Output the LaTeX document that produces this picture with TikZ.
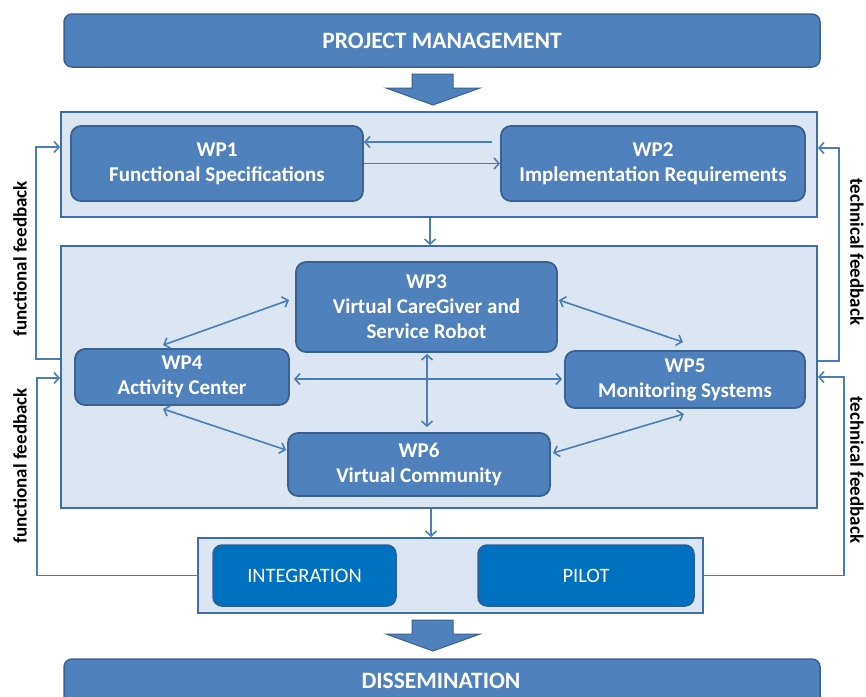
\documentclass[tikz,border=0pt]{standalone}
\usepackage{fontspec}
\setmainfont{Carlito}
\usetikzlibrary{arrows.meta}
\definecolor{wpfill}{HTML}{4F81BD}
\definecolor{wpdraw}{HTML}{3A6190}
\definecolor{lightfill}{HTML}{DCE6F2}
\definecolor{lightdraw}{HTML}{3F6EA6}
\definecolor{arr}{HTML}{4A7EBB}
\definecolor{intfill}{HTML}{0070C0}
\definecolor{intdraw}{HTML}{2F5E96}
\tikzset{
  wp/.style={draw=wpdraw, fill=wpfill, line width=1.8pt, rounded corners=10pt, text=white,
    font=\bfseries\fontsize{21}{25}\selectfont, align=center, inner sep=0pt},
  banner/.style={draw=wpdraw, fill=wpfill, line width=1.5pt, rounded corners=8pt, text=white,
    font=\bfseries\fontsize{23.5}{27}\selectfont, inner sep=0pt, minimum width=756pt},
  panel/.style={draw=lightdraw, fill=lightfill, line width=1.8pt, inner sep=0pt},
  ipbox/.style={draw=intdraw, fill=intfill, line width=1.5pt, rounded corners=9pt, text=white,
    font=\fontsize{20.5}{24}\selectfont, inner sep=0pt, minimum height=61pt},
  conn/.style={draw=arr, line width=1.6pt, {Straight Barb[length=5pt,width=11pt]}-{Straight Barb[length=5pt,width=11pt]}},
  oneway/.style={draw=arr, line width=1.6pt, -{Straight Barb[length=5pt,width=11pt]}},
  fb/.style={draw=arr, line width=1.6pt, -{Straight Barb[length=5pt,width=11pt]}},
  bigarrow/.style={draw=wpdraw, fill=wpfill, line width=1pt, line join=miter},
  fblabel/.style={font=\bfseries\fontsize{19}{22}\selectfont, text=black, inner sep=0pt}
}
\begin{document}
\begin{tikzpicture}[x=1pt,y=-1pt]
\useasboundingbox (0,0) rectangle (866,696);
\clip (0,0) rectangle (866,696);
% banners
\node[banner, minimum height=53pt] (pm) at (442,40.5) {PROJECT MANAGEMENT};
\node[banner, minimum height=60pt] (diss) at (442,689) {};
\node[text=white, font=\bfseries\fontsize{23.5}{27}\selectfont, inner sep=0pt] (disst) at (441,681) {DISSEMINATION};
% big arrows
\draw[bigarrow] (412,74) -- (453,74) -- (453,88) -- (480,88) -- (433,105) -- (386,88) -- (412,88) -- cycle;
\draw[bigarrow] (412,620) -- (453,620) -- (453,634) -- (480,634) -- (433,651) -- (386,634) -- (412,634) -- cycle;
% panels
\node[panel, minimum width=756pt, minimum height=105pt] (box1) at (439,164.5) {};
\node[panel, minimum width=756pt, minimum height=262pt] (box2) at (439,377) {};
\node[panel, minimum width=505pt, minimum height=75pt] (box3) at (450.5,575.5) {};
% work packages
\node[wp, minimum width=292pt, minimum height=75pt] (wp1) at (217,163.5) {WP1\\Functional Specifications};
\node[wp, minimum width=304pt, minimum height=75pt] (wp2) at (653,163.5) {WP2\\Implementation Requirements};
\node[wp, minimum width=261pt, minimum height=90pt] (wp3) at (426.5,307) {WP3\\Virtual CareGiver and\\Service Robot};
\node[wp, minimum width=214pt, minimum height=56pt] (wp4) at (182,377) {WP4\\Activity Center};
\node[wp, minimum width=240pt, minimum height=57pt] (wp5) at (685,379.5) {WP5\\Monitoring Systems};
\node[wp, minimum width=262pt, minimum height=63pt] (wp6) at (419,464.5) {WP6\\Virtual Community};
\node[ipbox, minimum width=183pt] (int) at (304.5,575.5) {INTEGRATION};
\node[ipbox, minimum width=216pt] (pilot) at (586,575.5) {PILOT};
% connectors in panel 1
\draw[oneway] ([xshift=-8pt,yshift=21.5pt]wp2.west) -- ([yshift=21.5pt]wp1.east);
\draw[oneway] (wp1.east) -- (wp2.west);
% panel to panel
\draw[oneway] ([xshift=-9pt]box1.south) -- ([xshift=-9pt]box2.north);
\draw[oneway] ([xshift=-8pt]box2.south) -- ([xshift=-8pt]box2.south |- box3.north);
% connectors in panel 2
\draw[conn] ([xshift=-19pt,yshift=3pt]wp4.north) -- ([xshift=-6pt,yshift=7pt]wp3.west);
\draw[conn] ([xshift=-19pt,yshift=-3pt]wp4.south) -- ([xshift=-1pt,yshift=14.5pt]wp6.west);
\draw[conn] ([xshift=0.5pt,yshift=-1pt]wp3.south) -- ([xshift=0.5pt,yshift=5pt]wp3.south |- wp6.north);
\draw[conn] ([xshift=4pt,yshift=-2pt]wp4.east) -- ([xshift=-2pt,yshift=-2pt]wp4.east -| wp5.west);
\draw[conn] ([xshift=1pt,yshift=7pt]wp3.east) -- ([xshift=-2pt,yshift=8pt]wp5.north);
\draw[conn] ([xshift=2pt,yshift=11.5pt]wp6.east) -- ([xshift=-1pt,yshift=-5pt]wp5.south);
% feedback loops
\draw[fb] ([yshift=18pt]box2.west) -- ++(-24,0) |- ([yshift=17.5pt]box1.west);
\draw[fb] (box3.west) -- ++(-160,0) |- ([yshift=-1pt]box2.west);
\draw[fb] ([yshift=16pt]box2.east) -- ++(21,0) |- ([yshift=16.5pt]box1.east);
\draw[fb] (box3.east) -- ++(140,0) |- (box2.east);
% labels
\node[fblabel, rotate=90] (fl1) at (20,259) {functional feedback};
\node[fblabel, rotate=90] (fl2) at (20,466) {functional feedback};
\node[fblabel, rotate=-90] (tl1) at (857,252) {technical feedback};
\node[fblabel, rotate=-90] (tl2) at (857,470) {technical feedback};
\end{tikzpicture}
\end{document}
